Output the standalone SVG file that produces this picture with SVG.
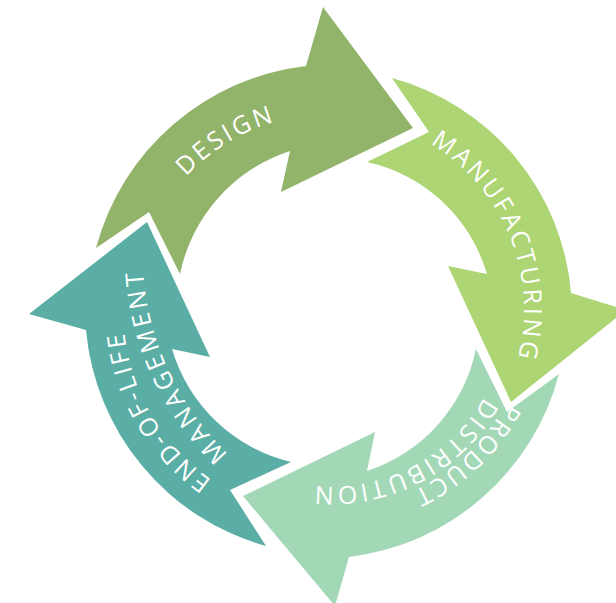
<svg xmlns="http://www.w3.org/2000/svg" width="616" height="603" viewBox="0 0 616 603">
<style>
.lbl{font-family:"Open Sans","Liberation Sans",sans-serif;font-size:25px;fill:#ffffff;letter-spacing:3px}
</style>
<defs>
<path id="pDesign" d="M147.6 381.8 A196 196 0 0 1 476.8 180.1"/>
<path id="pManu" d="M289.7 120.2 A194 194 0 0 1 432.8 474.5"/>
<path id="pProd" d="M497.1 195.9 A204 204 0 0 1 206.2 472.0"/>
<path id="pDist" d="M497.4 256.9 A175 175 0 0 1 190.2 415.3"/>
<path id="pEol" d="M402.2 504.0 A207 207 0 0 1 195.8 152.4"/>
<path id="pMgmt" d="M445.3 531.4 A280 280 0 0 1 225.4 53.4"/>
</defs>
<rect width="616" height="603" fill="#ffffff"/>
<g id="design">
<path fill="#92B36A" d="M96 248 A247 247 0 0 1 306 66 L323 7 L413 128 L281 192 L290 151 A164 164 0 0 0 180 274 L149 212 Z"/>
<text class="lbl"><textPath href="#pDesign" startOffset="50%" text-anchor="middle">DESIGN</textPath></text>
</g>
<g id="manufacturing">
<path fill="#ADD573" d="M392 78 A244 244 0 0 1 571 293 L626 310 L511 402 L448 266 L487 274 A161 161 0 0 0 367 162 L429 132 Z"/>
<text class="lbl"><textPath href="#pManu" startOffset="50%" text-anchor="middle">MANUFACTURING</textPath></text>
</g>
<g id="distribution">
<path fill="#A3D8B7" d="M559 374 A248 248 0 0 1 349 557 L335 606 L243 496 L375 432 L367 471 A163 163 0 0 0 476 349 L507 412 Z"/>
<text class="lbl" style="letter-spacing:2.5px"><textPath href="#pProd" startOffset="50%" text-anchor="middle">PRODUCT</textPath></text>
<text class="lbl"><textPath href="#pDist" startOffset="50%" text-anchor="middle">DISTRIBUTION</textPath></text>
</g>
<g id="end-of-life">
<path fill="#5AAEA5" d="M266 546 A247 247 0 0 1 86 330 L29 314 L147 222 L210 357 L172 349 A164 164 0 0 0 291 462 L230 490 Z"/>
<text class="lbl"><textPath href="#pEol" startOffset="50%" text-anchor="middle">END-OF-LIFE</textPath></text>
<text class="lbl" style="letter-spacing:3.5px"><textPath href="#pMgmt" startOffset="50%" text-anchor="middle">MANAGEMENT</textPath></text>
</g>
</svg>
